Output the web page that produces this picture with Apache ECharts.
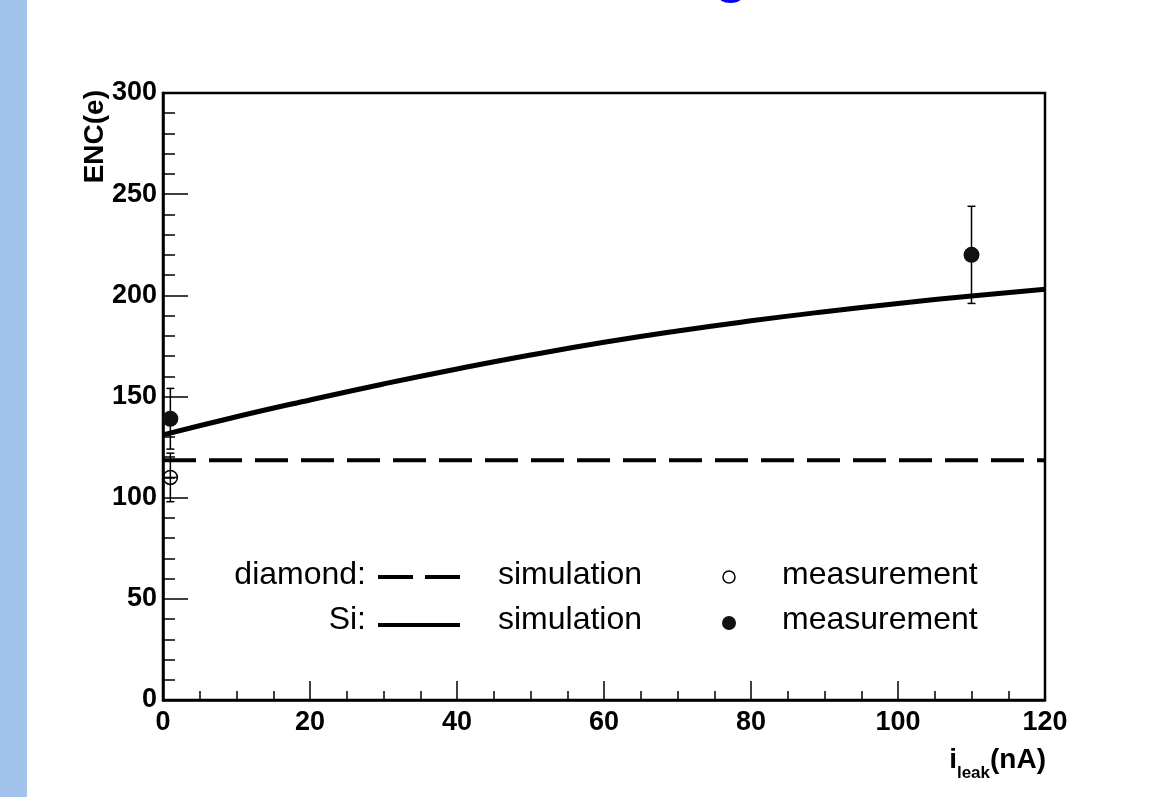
<!DOCTYPE html>
<html>
<head>
<meta charset="utf-8">
<script src="https://cdn.jsdelivr.net/npm/echarts@6/dist/echarts.min.js"></script>
<style>
  html, body { margin: 0; padding: 0; background: #fff; }
  #main { width: 1156px; height: 797px; }
</style>
</head>
<body>
<div id="main"></div>
<script>
// leakage current grid (nA) and Si simulation curve ENC(e)
var simCurrent = [0, 10, 20, 30, 40, 50, 60, 70, 80, 90, 100, 110, 120];
var siSimulation = [131, 140, 148.3, 156.2, 163.6, 170.5, 176.8, 182.4, 187.4, 191.9, 196, 199.7, 203];

// diamond simulation: flat line
var diamondCurrent = [0, 120];
var diamondSimulation = [118.5, 118.5];

// measurements: current, ENC, error
var diamondMeasI = [1];
var diamondMeasV = [110];
var diamondMeasErr = [12];

var siMeasI = [1, 110];
var siMeasV = [139, 220];
var siMeasErr = [15, 24];

var xTicks = [0, 20, 40, 60, 80, 100, 120];
var yTicks = [0, 50, 100, 150, 200, 250, 300];

var myChart = echarts.init(document.getElementById('main'));

function zip(xs, ys, es) {
    var out = [];
    for (var i = 0; i < xs.length; i++) {
        out.push(es ? [xs[i], ys[i], es[i]] : [xs[i], ys[i]]);
    }
    return out;
}

function errorBar(withCross) {
    return function (params, api) {
        var x = api.value(0), y = api.value(1), e = api.value(2);
        var top = api.coord([x, y + e]);
        var bot = api.coord([x, y - e]);
        var mid = api.coord([x, y]);
        var st = { stroke: '#000', lineWidth: 1.5 };
        var kids = [
            { type: 'line', shape: { x1: top[0], y1: top[1], x2: bot[0], y2: bot[1] }, style: st },
            { type: 'line', shape: { x1: top[0] - 4, y1: top[1], x2: top[0] + 4, y2: top[1] }, style: st },
            { type: 'line', shape: { x1: bot[0] - 4, y1: bot[1], x2: bot[0] + 4, y2: bot[1] }, style: st }
        ];
        if (withCross) {
            kids.push({ type: 'line', shape: { x1: mid[0] - 7, y1: mid[1], x2: mid[0] + 7, y2: mid[1] }, style: st });
        }
        return { type: 'group', children: kids };
    };
}

var labelFont = { fontFamily: 'Liberation Sans', fontWeight: 'bold', fontSize: 27, color: '#000' };
var legendFont = '32px "Liberation Sans"';

var option = {
    animation: false,
    backgroundColor: '#fff',
    grid: {
        left: 163, right: 111, top: 93, bottom: 97,
        show: true, borderColor: '#000', borderWidth: 2.5, backgroundColor: 'transparent'
    },
    xAxis: {
        type: 'value', min: 0, max: 120, interval: 20,
        axisLine: { onZero: false, lineStyle: { color: '#000', width: 2.5 } },
        axisTick: { inside: true, length: 19, lineStyle: { color: '#000', width: 1.5 } },
        minorTick: { show: true, splitNumber: 4, length: 9, lineStyle: { color: '#000', width: 1.5 } },
        splitLine: { show: false },
        axisLabel: Object.assign({ margin: 9, formatter: function (v) { return xTicks.indexOf(v) >= 0 ? v : ''; } }, labelFont)
    },
    yAxis: {
        type: 'value', min: 0, max: 300, interval: 50,
        axisLine: { show: true, onZero: false, lineStyle: { color: '#000', width: 2.5 } },
        axisTick: { show: true, inside: true, length: 25, lineStyle: { color: '#000', width: 1.5 } },
        minorTick: { show: true, splitNumber: 5, length: 12, lineStyle: { color: '#000', width: 1.5 } },
        splitLine: { show: false },
        axisLabel: Object.assign({ margin: 6, formatter: function (v) { return yTicks.indexOf(v) >= 0 ? v : ''; } }, labelFont)
    },
    graphic: [
        { type: 'rect', shape: { x: 0, y: 0, width: 27, height: 797 }, style: { fill: '#a2c3eb' }, z: -1 },
        { type: 'text', x: 731, y: -52, style: { text: 'g', font: 'bold 56px "Liberation Sans"', fill: '#0000ff', align: 'center', verticalAlign: 'top' } },
        { type: 'text', x: 95, y: 90, rotation: Math.PI / 2,
          style: { text: 'ENC(e)', font: 'bold 28px "Liberation Sans"', fill: '#000', align: 'right', verticalAlign: 'middle' } },
        { type: 'text', x: 1046, y: 746,
          style: {
              text: '{a|i}{s|leak}{a|(nA)}', align: 'right', verticalAlign: 'top',
              rich: {
                  a: { fontFamily: 'Liberation Sans', fontWeight: 'bold', fontSize: 28, lineHeight: 36, verticalAlign: 'top' },
                  s: { fontFamily: 'Liberation Sans', fontWeight: 'bold', fontSize: 17, lineHeight: 36, verticalAlign: 'bottom', padding: [14, 0, 0, 0] }
              }
          } },
        // legend row 1
        { type: 'text', x: 366, y: 575, style: { text: 'diamond:', font: legendFont, fill: '#000', align: 'right', verticalAlign: 'middle' } },
        { type: 'line', shape: { x1: 378, y1: 577, x2: 460, y2: 577 }, style: { stroke: '#000', lineWidth: 4 , lineDash: [35, 12] } },
        { type: 'text', x: 498, y: 575, style: { text: 'simulation', font: legendFont, fill: '#000', align: 'left', verticalAlign: 'middle' } },
        { type: 'circle', shape: { cx: 729, cy: 577, r: 6 }, style: { fill: 'none', stroke: '#000', lineWidth: 1.5 } },
        { type: 'text', x: 782, y: 575, style: { text: 'measurement', font: legendFont, fill: '#000', align: 'left', verticalAlign: 'middle' } },
        // legend row 2
        { type: 'text', x: 366, y: 620, style: { text: 'Si:', font: legendFont, fill: '#000', align: 'right', verticalAlign: 'middle' } },
        { type: 'line', shape: { x1: 378, y1: 625, x2: 460, y2: 625 }, style: { stroke: '#000', lineWidth: 4 } },
        { type: 'text', x: 498, y: 620, style: { text: 'simulation', font: legendFont, fill: '#000', align: 'left', verticalAlign: 'middle' } },
        { type: 'circle', shape: { cx: 729, cy: 623, r: 7 }, style: { fill: '#111' } },
        { type: 'text', x: 782, y: 620, style: { text: 'measurement', font: legendFont, fill: '#000', align: 'left', verticalAlign: 'middle' } }
    ],
    series: [
        {
            name: 'diamond simulation', type: 'line', data: zip(diamondCurrent, diamondSimulation),
            showSymbol: false, lineStyle: { color: '#000', width: 4, type: [33, 13] }, z: 3
        },
        {
            name: 'Si simulation', type: 'line', data: zip(simCurrent, siSimulation), smooth: true,
            showSymbol: false, lineStyle: { color: '#000', width: 5 }, z: 3
        },
        {
            name: 'diamond err', type: 'custom', data: zip(diamondMeasI, diamondMeasV, diamondMeasErr),
            renderItem: errorBar(true), z: 4
        },
        {
            name: 'Si err', type: 'custom', data: zip(siMeasI, siMeasV, siMeasErr),
            renderItem: errorBar(false), z: 4
        },
        {
            name: 'diamond measurement', type: 'scatter', data: zip(diamondMeasI, diamondMeasV),
            symbol: 'circle', symbolSize: 14,
            itemStyle: { color: 'transparent', borderColor: '#000', borderWidth: 1.5, opacity: 1 }, z: 5
        },
        {
            name: 'Si measurement', type: 'scatter', data: zip(siMeasI, siMeasV),
            symbol: 'circle', symbolSize: 16, itemStyle: { color: '#111', opacity: 1 }, z: 5
        }
    ]
};

myChart.setOption(option);
</script>
</body>
</html>
